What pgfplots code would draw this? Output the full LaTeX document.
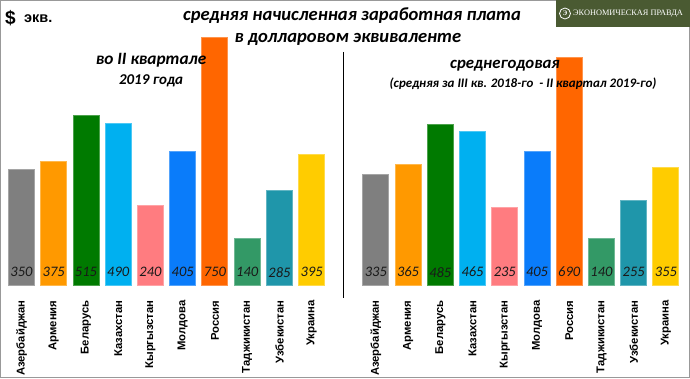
\documentclass[border=0pt]{standalone}
\usepackage{pgfplots}
\pgfplotsset{compat=1.18}
\usepackage{fontspec}
\setmainfont{Carlito}
\newfontfamily\labfont{Liberation Sans}
\newfontfamily\logofont{Liberation Serif}
\definecolor{cAz}{HTML}{7F7F7F}
\definecolor{cAr}{HTML}{FF9900}
\definecolor{cBe}{HTML}{007A00}
\definecolor{cKz}{HTML}{00B0F0}
\definecolor{cKg}{HTML}{FF7C80}
\definecolor{cMd}{HTML}{0A7CFA}
\definecolor{cRu}{HTML}{FF6600}
\definecolor{cTj}{HTML}{339966}
\definecolor{cUz}{HTML}{1F96AA}
\definecolor{cUa}{HTML}{FFCC00}
\definecolor{logogreen}{HTML}{4A5A32}
\pgfplotsset{
  barax/.style={
    scale only axis, width=322.4pt, height=264pt,
    xmin=-0.5, xmax=9.5, ymin=0, ymax=800,
    axis x line=bottom, axis y line=none,
    x axis line style={draw=none},
    xtick={0,...,9}, xtick style={draw=none},
    xticklabels={Азербайджан,Армения,Беларусь,Казахстан,Кыргызстан,Молдова,Россия,Таджикистан,Узбекистан,Украина},
    xticklabel style={rotate=90, anchor=east, inner ysep=0pt, inner xsep=11pt, font=\labfont\bfseries\fontsize{11.3}{12}\selectfont},
    ybar, bar width=26pt, bar shift=0pt,
    clip=false,
  },
  b/.style={fill=#1, draw=#1!70!white, line width=1pt},
  vals/.style={only marks, mark=none, nodes near coords, point meta=explicit symbolic,
    every node near coord/.style={anchor=center, font=\itshape\fontsize{14.5}{16}\selectfont, text=black!90}},
}
\begin{document}
\begin{tikzpicture}[x=1pt,y=1pt]
\useasboundingbox (0,0) rectangle (690,378);
\fill[white] (0,0) rectangle (690,378);
\draw[black!40, line width=1pt] (0.5,0.5) rectangle (689.5,377.5);
% left axis
\begin{axis}[barax, at={(5.4pt,93pt)}, anchor=south west]
\addplot[b=cAz] coordinates {(0,350)};
\addplot[b=cAr] coordinates {(1,375)};
\addplot[b=cBe] coordinates {(2,515)};
\addplot[b=cKz] coordinates {(3,490)};
\addplot[b=cKg] coordinates {(4,240)};
\addplot[b=cMd] coordinates {(5,405)};
\addplot[b=cRu] coordinates {(6,750)};
\addplot[b=cTj] coordinates {(7,140)};
\addplot[b=cUz] coordinates {(8,285)};
\addplot[b=cUa] coordinates {(9,395)};
\addplot[vals] coordinates {(0,39)[350] (1,39)[375] (2,39)[515] (3,39)[490] (4,39)[240] (5,39)[405] (6,39)[750] (7,39)[140] (8,39)[285] (9,39)[395]};
\end{axis}
% right axis
\begin{axis}[barax, at={(359.7pt,93pt)}, anchor=south west]
\addplot[b=cAz] coordinates {(0,335)};
\addplot[b=cAr] coordinates {(1,365)};
\addplot[b=cBe] coordinates {(2,485)};
\addplot[b=cKz] coordinates {(3,465)};
\addplot[b=cKg] coordinates {(4,235)};
\addplot[b=cMd] coordinates {(5,405)};
\addplot[b=cRu] coordinates {(6,690)};
\addplot[b=cTj] coordinates {(7,140)};
\addplot[b=cUz] coordinates {(8,255)};
\addplot[b=cUa] coordinates {(9,355)};
\addplot[vals] coordinates {(0,39)[335] (1,39)[365] (2,39)[485] (3,39)[465] (4,39)[235] (5,39)[405] (6,39)[690] (7,39)[140] (8,39)[255] (9,39)[355]};
\end{axis}
% separator
\draw[black, line width=1pt] (343,326) -- (343,80);
% titles
\node[anchor=base, font=\bfseries\itshape\fontsize{18.6}{20}\selectfont] at (352,357) {средняя начисленная заработная плата};
\node[anchor=base, font=\bfseries\itshape\fontsize{18.6}{20}\selectfont] at (348,335) {в долларовом эквиваленте};
\node[anchor=base, font=\bfseries\itshape\fontsize{17.3}{18}\selectfont] at (151,313) {во II квартале};
\node[anchor=base, font=\bfseries\itshape\fontsize{15}{16}\selectfont] at (151,293) {2019 года};
\node[anchor=base, font=\bfseries\itshape\fontsize{16.8}{18}\selectfont] at (505,309) {среднегодовая};
\node[anchor=base, font=\bfseries\itshape\fontsize{13}{14}\selectfont] at (523,290) {(средняя за III кв. 2018-го~~- II квартал 2019-го)};
% $ экв.
\node[anchor=base west, inner sep=0pt, font=\labfont\bfseries\fontsize{19}{20}\selectfont] at (5,353) {\$};
\node[anchor=base west, inner sep=0pt, font=\labfont\bfseries\fontsize{14.5}{16}\selectfont] at (24,355) {экв.};
% logo
\fill[logogreen] (556,351) rectangle (690,378);
\draw[white, line width=0.8pt] (565,364.5) circle (5.5);
\node[white, font=\logofont\bfseries\fontsize{7}{7}\selectfont, inner sep=0pt] at (565,364.5) {Э};
\node[anchor=west, inner sep=0pt, white, font=\logofont\fontsize{8.3}{9}\selectfont] at (573,364.5) {ЭКОНОМИЧЕСКАЯ ПРАВДА};
\end{tikzpicture}
\end{document}
